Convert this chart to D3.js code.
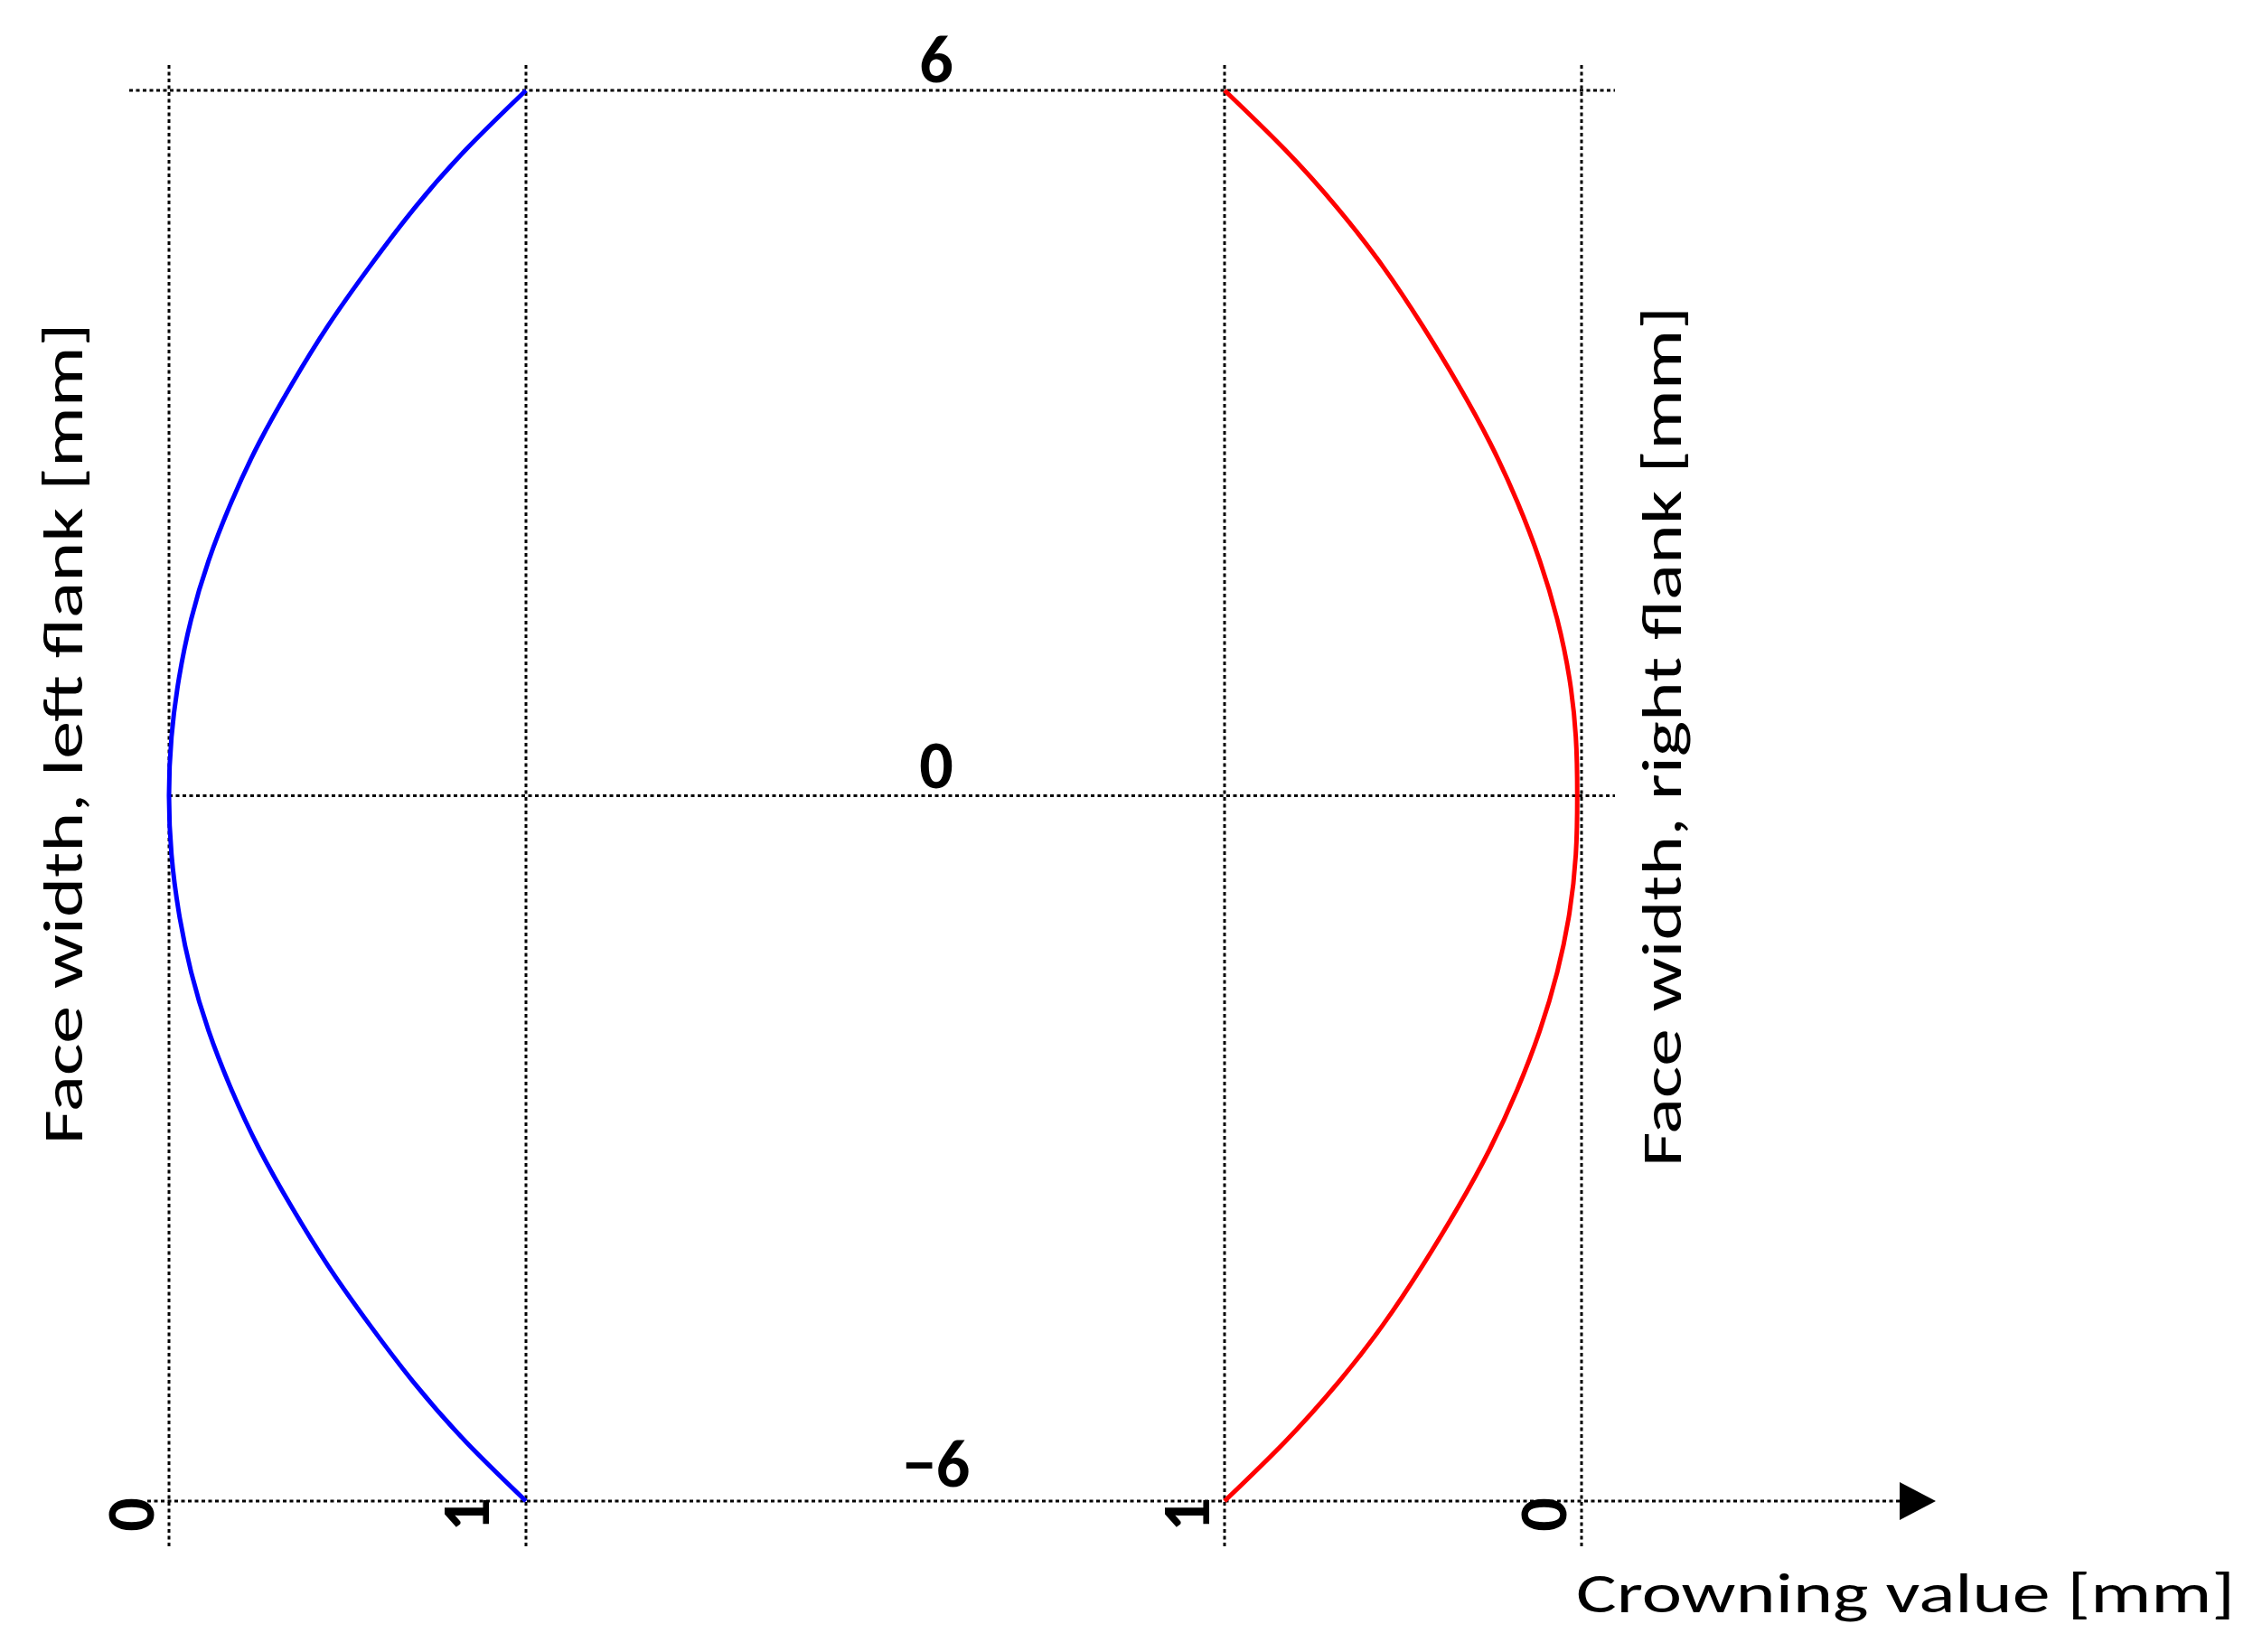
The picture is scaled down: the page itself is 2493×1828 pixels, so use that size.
<!DOCTYPE html>
<html>
<head>
<meta charset="utf-8">
<script src="https://cdn.jsdelivr.net/npm/d3@7"></script>
<style>
  body { margin: 0; background: #fff; }
  svg { display: block; }
  text { font-family: Carlito, Calibri, "Open Sans", sans-serif; fill: #000; }
</style>
</head>
<body>
<svg id="chart" width="2493" height="1828"></svg>
<script>
const faceWidth = [-6, -5.5, -5, -4.5, -4, -3.5, -3, -2.5, -2, -1.5, -1, -0.5, 0,
                   0.5, 1, 1.5, 2, 2.5, 3, 3.5, 4, 4.5, 5, 5.5, 6];
// crowning value (mm), left flank (blue) and right flank (red)
const leftCrowning = [1, 0.833, 0.688, 0.562, 0.446, 0.344, 0.252, 0.175, 0.111, 0.062, 0.028, 0.007, 0,
                      0.007, 0.028, 0.062, 0.111, 0.175, 0.252, 0.344, 0.446, 0.562, 0.688, 0.833, 1];
const rightCrowning = [1, 0.832, 0.684, 0.556, 0.446, 0.346, 0.256, 0.18, 0.117, 0.068, 0.034, 0.016, 0.012,
                       0.016, 0.034, 0.068, 0.117, 0.18, 0.256, 0.346, 0.446, 0.556, 0.684, 0.832, 1];
const yTicks = [6, 0, -6];
const yTickLabels = ["6", "0", "\u22126"];
const xTicks = [0, 1];
const xTickLabels = ["0", "1"];
const leftTitle = "Face width, left flank [mm]";
const rightTitle = "Face width, right flank [mm]";
const xTitle = "Crowning value [mm]";

const svg = d3.select("#chart");

// scales
const y = d3.scaleLinear().domain([-6, 6]).range([1661, 100]);
const xL = d3.scaleLinear().domain([0, 1]).range([187, 582]);
const xR = d3.scaleLinear().domain([0, 1]).range([1750, 1355]);

const dotted = (sel) => sel
  .attr("stroke", "#000")
  .attr("stroke-width", 3)
  .attr("stroke-dasharray", "4 3.5")
  .attr("fill", "none");

// vertical grid lines
const vx = [xL(0), xL(1), xR(1), xR(0)];
svg.append("g").selectAll("line").data(vx).enter().append("line")
  .attr("x1", d => d).attr("x2", d => d)
  .attr("y1", y(6) - 28).attr("y2", y(-6) + 53)
  .call(dotted);

// horizontal grid lines
svg.append("line").attr("x1", 143).attr("x2", xR(0) + 37)
  .attr("y1", y(6)).attr("y2", y(6)).call(dotted);
svg.append("line").attr("x1", xL(0)).attr("x2", xR(0) + 37)
  .attr("y1", y(0)).attr("y2", y(0)).call(dotted);
// bottom line is the crowning axis, ends in an arrow
svg.append("line").attr("x1", 163).attr("x2", 2104)
  .attr("y1", y(-6)).attr("y2", y(-6)).call(dotted);
svg.append("path")
  .attr("d", d3.line()([[2102, y(-6) - 21], [2142, y(-6)], [2102, y(-6) + 21]]) + "Z")
  .attr("fill", "#000");

// curves
const leftLine = d3.line()
  .x(d => xL(d[1])).y(d => y(d[0]))
  .curve(d3.curveNatural);
const rightLine = d3.line()
  .x(d => xR(d[1])).y(d => y(d[0]))
  .curve(d3.curveNatural);

svg.append("path")
  .attr("d", leftLine(faceWidth.map((f, i) => [f, leftCrowning[i]])))
  .attr("stroke", "#0000ff").attr("stroke-width", 5).attr("fill", "none");
svg.append("path")
  .attr("d", rightLine(faceWidth.map((f, i) => [f, rightCrowning[i]])))
  .attr("stroke", "#ff0000").attr("stroke-width", 5).attr("fill", "none");

// face width tick labels
svg.append("g").selectAll("text").data(yTicks).enter().append("text")
  .attr("x", 1036)
  .attr("y", d => y(d) - (d === -6 ? 16 : 9))
  .attr("text-anchor", "middle")
  .attr("font-weight", "bold")
  .attr("font-size", 74)
  .text((d, i) => yTickLabels[i]);

// crowning tick labels (rotated)
const xLabelData = [];
xTicks.forEach((v, i) => {
  xLabelData.push({ x: xL(v) - (v === 1 ? 41 : 17), t: xTickLabels[i] });
  xLabelData.push({ x: xR(v) - 17, t: xTickLabels[i] });
});
svg.append("g").selectAll("text").data(xLabelData).enter().append("text")
  .attr("transform", d => `translate(${d.x},${y(-6) + 15}) rotate(-90)`)
  .attr("text-anchor", "middle")
  .attr("font-weight", "bold")
  .attr("font-size", 74)
  .text(d => d.t);

// axis titles
svg.append("text")
  .attr("transform", "translate(91,812) rotate(-90)")
  .attr("text-anchor", "middle")
  .attr("font-size", 62)
  .attr("textLength", 909).attr("lengthAdjust", "spacingAndGlyphs")
  .text(leftTitle);
svg.append("text")
  .attr("transform", "translate(1860,815) rotate(-90)")
  .attr("text-anchor", "middle")
  .attr("font-size", 62)
  .attr("textLength", 952).attr("lengthAdjust", "spacingAndGlyphs")
  .text(rightTitle);
svg.append("text")
  .attr("x", 1744).attr("y", 1784)
  .attr("font-size", 62)
  .attr("textLength", 729).attr("lengthAdjust", "spacingAndGlyphs")
  .text(xTitle);
</script>
</body>
</html>
